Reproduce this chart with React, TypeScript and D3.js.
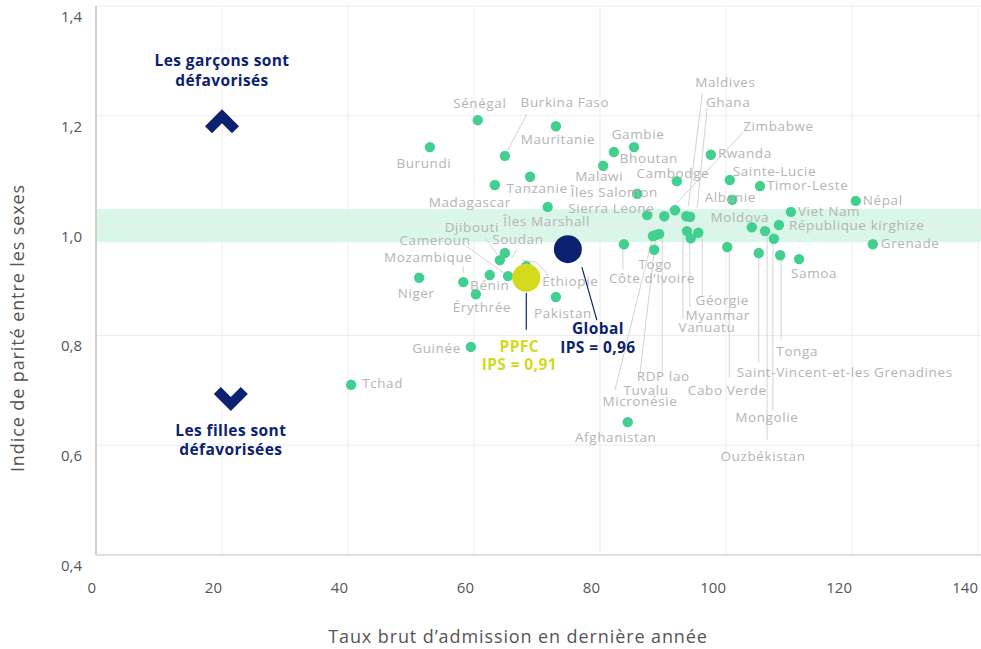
import React from 'react';
import * as d3 from 'd3';

// Pays, taux brut d'admission en dernière année (x) et indice de parité (y)
const countries = [
  'Tchad', 'Guinée', 'Niger', 'Mozambique', 'Érythrée', 'Bénin', 'Djibouti', 'Soudan', 'Cameroun', 'Éthiopie',
  'Pakistan', 'Burundi', 'Sénégal', 'Burkina Faso', 'Mauritanie', 'Madagascar', 'Tanzanie', 'Îles Marshall', 'Malawi', 'Bhoutan',
  'Gambie', 'Îles Salomon', 'Sierra Leone', 'Zimbabwe', '', 'Maldives', 'Ghana', 'Cambodge', 'Rwanda', 'Sainte-Lucie',
  'Timor-Leste', 'Albanie', 'Népal', 'Viet Nam', 'République kirghize', 'Moldova', 'Ouzbékistan', 'Mongolie', 'Grenade', 'Cabo Verde',
  'Saint-Vincent-et-les Grenadines', 'Tonga', 'Samoa', 'Côte d’Ivoire', 'Togo', 'Micronésie', 'Tuvalu', 'RDP lao', 'Vanuatu', 'Myanmar',
  'Géorgie', 'Afghanistan',
];
const tba = [
  40.5, 59.5, 51.3, 58.3, 60.3, 62.5, 64.1, 64.9, 65.4, 68.3,
  73.0, 53.0, 60.6, 64.9, 73.0, 63.3, 68.9, 71.7, 80.5, 82.2,
  85.4, 85.9, 87.5, 90.2, 91.9, 93.7, 94.3, 92.2, 97.6, 100.6,
  105.4, 101.0, 120.6, 110.3, 108.4, 104.1, 106.2, 107.6, 123.3, 100.2,
  105.2, 108.6, 111.6, 83.8, 88.6, 88.4, 88.9, 89.4, 93.8, 94.4,
  95.6, 84.4,
];
const ips = [
  0.710, 0.779, 0.905, 0.897, 0.875, 0.910, 0.937, 0.950, 0.908, 0.926,
  0.870, 1.143, 1.192, 1.127, 1.181, 1.074, 1.089, 1.034, 1.109, 1.134,
  1.143, 1.058, 1.019, 1.017, 1.028, 1.017, 1.016, 1.081, 1.129, 1.083,
  1.072, 1.047, 1.045, 1.025, 1.001, 0.997, 0.990, 0.976, 0.966, 0.961,
  0.950, 0.946, 0.939, 0.966, 0.956, 0.981, 0.983, 0.985, 0.990, 0.977,
  0.987, 0.642,
];

const aggregates = ['Global', 'PPFC'];
const aggTba = [74.9, 68.3];
const aggIps = [0.957, 0.905];

const xTicks = [0, 20, 40, 60, 80, 100, 120, 140];
const yTicks = [0.4, 0.6, 0.8, 1.0, 1.2, 1.4];

type LabelPos = { dx: number; dy: number; anchor?: string; line?: number[][] };

// placement des étiquettes (décalages en pixels par rapport au point)
const labelPos: Record<string, LabelPos> = {
  'Tchad': { dx: 11, dy: 0, anchor: 'start' },
  'Guinée': { dx: -10, dy: 2, anchor: 'end' },
  'Niger': { dx: -3, dy: 17 },
  'Mozambique': { dx: -35, dy: -24, line: [[0, -9], [0, -16]] },
  'Érythrée': { dx: 6, dy: 14 },
  'Bénin': { dx: 0, dy: 11 },
  'Djibouti': { dx: -28, dy: -32, line: [[-15, -23], [-2, -5]] },
  'Soudan': { dx: 13, dy: -13, line: [[12, -4], [7, 5]] },
  'Cameroun': { dx: -73, dy: -35, line: [[-46, -33], [0, 0]] },
  'Éthiopie': { dx: 44, dy: 16, line: [[21, 7], [10, -4], [-4, -6]] },
  'Pakistan': { dx: 7, dy: 17 },
  'Burundi': { dx: -6, dy: 17 },
  'Sénégal': { dx: 2, dy: -16 },
  'Burkina Faso': { dx: 60, dy: -52, line: [[22, -42], [0, 0]] },
  'Mauritanie': { dx: 2, dy: 14 },
  'Madagascar': { dx: -25, dy: 18 },
  'Tanzanie': { dx: 7, dy: 13 },
  'Îles Marshall': { dx: -1, dy: 15 },
  'Malawi': { dx: -4, dy: 12 },
  'Bhoutan': { dx: 35, dy: 7 },
  'Gambie': { dx: 4, dy: -12 },
  'Îles Salomon': { dx: -23, dy: 0 },
  'Sierra Leone': { dx: -36, dy: -6 },
  'Zimbabwe': { dx: 79, dy: -89, anchor: 'start', line: [[79, -84], [0, 0]] },
  'Maldives': { dx: 39, dy: -133, line: [[16, -123], [2, -10]] },
  'Ghana': { dx: 38, dy: -113, line: [[17, -109], [7, -9]] },
  'Cambodge': { dx: -4, dy: -7 },
  'Rwanda': { dx: 7, dy: 0, anchor: 'start' },
  'Sainte-Lucie': { dx: 3, dy: -8, anchor: 'start' },
  'Timor-Leste': { dx: 7, dy: 0, anchor: 'start' },
  'Albanie': { dx: -2, dy: -1 },
  'Népal': { dx: 7, dy: 0, anchor: 'start' },
  'Viet Nam': { dx: 7, dy: 1, anchor: 'start' },
  'République kirghize': { dx: 10, dy: 1, anchor: 'start' },
  'Moldova': { dx: -12, dy: -9 },
  'Ouzbékistan': { dx: -2, dy: 226, line: [[2, 5], [2, 209]] },
  'Mongolie': { dx: -7, dy: 180, line: [[-1, 5], [-1, 172]] },
  'Grenade': { dx: 8, dy: 0, anchor: 'start' },
  'Cabo Verde': { dx: 0, dy: 144, line: [[2, 5], [2, 130]] },
  'Saint-Vincent-et-les Grenadines': { dx: 86, dy: 120, line: [[0, 5], [0, 110]] },
  'Tonga': { dx: 17, dy: 97, line: [[1, 5], [1, 84]] },
  'Samoa': { dx: 15, dy: 15 },
  'Côte d’Ivoire': { dx: 28, dy: 35, line: [[-1, 5], [-1, 25]] },
  'Togo': { dx: 1, dy: 16 },
  'Micronésie': { dx: -13, dy: 166, line: [[-38, 154], [0, 0]] },
  'Tuvalu': { dx: -10, dy: 156, line: [[-16, 138], [0, 0]] },
  'RDP lao': { dx: 4, dy: 144, line: [[3, 4], [3, 138]] },
  'Vanuatu': { dx: 20, dy: 97, line: [[-4, 5], [-4, 88]] },
  'Myanmar': { dx: 27, dy: 78, line: [[-1, 5], [-1, 69]] },
  'Géorgie': { dx: 24, dy: 69, line: [[4, 5], [4, 63]] },
  'Afghanistan': { dx: -12, dy: 16 },
};

const width = 981;
const height = 649;
const margin = { top: 6, right: 3, bottom: 94, left: 96 };

const GREEN = '#41d08f';
const NAVY = '#0b2270';
const YELLOW = '#d5d91d';
const LABEL = '#b4b4b4';
const LEADER = '#d2d2d2';
const FONT = '"Open Sans", "DejaVu Sans", sans-serif';

const App: React.FC = () => {
  const x = d3.scaleLinear().domain([0, 140]).range([margin.left, width - margin.right]);
  const y = d3.scaleLinear().domain([0.4, 1.4]).range([height - margin.bottom, margin.top]);
  const line = d3.line<number[]>().x(d => d[0]).y(d => d[1]);
  const fmt1 = (v: number) => d3.format('.1f')(v).replace('.', ',');
  const fmt2 = (v: number) => d3.format('.2f')(v).replace('.', ',');

  const points = countries.map((c, i) => ({ name: c, cx: x(tba[i]), cy: y(ips[i]) }));

  const chevron = (cx: number, cy: number, dir: number) => {
    const pts = [[0, -12], [17, 5], [10, 12], [0, 2], [-10, 12], [-17, 5]];
    return 'M' + pts.map(p => `${cx + p[0]},${cy + p[1] * dir}`).join('L') + 'Z';
  };

  const gX = x(aggTba[0]), gY = y(aggIps[0]);
  const pX = x(aggTba[1]), pY = y(aggIps[1]);

  const bold = { fontSize: 15.5, fontWeight: 700, letterSpacing: 0.4 };

  return (
    <svg width={width} height={height} style={{ position: 'absolute', left: 0, top: 0, display: 'block', fontFamily: FONT }}>
      <rect width={width} height={height} fill="#fff" />

      {/* bande de parité */}
      <rect x={x(0)} y={y(1.03)} width={width - margin.left} height={y(0.97) - y(1.03)} fill="#d9f6e9" />

      {/* grille */}
      {xTicks.filter(t => t > 0).map(t => (
        <line key={'gx' + t} x1={x(t)} x2={x(t)} y1={y(1.4)} y2={y(0.4)} stroke="#ebebeb" />
      ))}
      {yTicks.filter(t => t > 0.4).map(t => (
        <line key={'gy' + t} x1={x(0)} x2={width} y1={y(t)} y2={y(t)} stroke="#ebebeb" />
      ))}

      {/* axes */}
      <line x1={x(0)} x2={x(0)} y1={y(1.4)} y2={y(0.4)} stroke="#cfcfcf" strokeWidth={2} />
      <line x1={x(0)} x2={width} y1={y(0.4)} y2={y(0.4)} stroke="#e0e0e0" strokeWidth={2} />
      {xTicks.map(t => (
        <text key={'tx' + t} x={x(t)} y={y(0.4) + 34} textAnchor="end" dominantBaseline="middle" fontSize={15} fill="#555">{t}</text>
      ))}
      {yTicks.map(t => (
        <text key={'ty' + t} x={x(0) - 14} y={y(t) + 12} textAnchor="end" dominantBaseline="middle" fontSize={15} fill="#555">{fmt1(t)}</text>
      ))}
      <text x={518} y={638} textAnchor="middle" dominantBaseline="middle" fontSize={18} letterSpacing={0.9} fill="#555">Taux brut d’admission en dernière année</text>
      <text transform="translate(19,328) rotate(-90)" textAnchor="middle" dominantBaseline="middle" fontSize={18} letterSpacing={0.9} fill="#555">Indice de parité entre les sexes</text>

      {/* annotations */}
      <path d={chevron(x(20), y(1.19), 1)} fill={NAVY} />
      <path d={chevron(x(21.4), y(0.684), -1)} fill={NAVY} />
      <text x={x(20)} y={62} textAnchor="middle" dominantBaseline="middle" {...bold} fill={NAVY}>Les garçons sont</text>
      <text x={x(20)} y={82} textAnchor="middle" dominantBaseline="middle" {...bold} fill={NAVY}>défavorisés</text>
      <text x={x(21.4)} y={432} textAnchor="middle" dominantBaseline="middle" {...bold} fill={NAVY}>Les filles sont</text>
      <text x={x(21.4)} y={451} textAnchor="middle" dominantBaseline="middle" {...bold} fill={NAVY}>défavorisées</text>

      {/* traits de rappel */}
      {points.map(p => {
        const lp = labelPos[p.name];
        if (!lp || !lp.line) return null;
        return <path key={'l' + p.name} d={line(lp.line.map(o => [p.cx + o[0], p.cy + o[1]])) || ''} fill="none" stroke={LEADER} strokeWidth={1} />;
      })}

      {/* points pays */}
      {points.map((p, i) => (
        <circle key={'c' + i} cx={p.cx} cy={p.cy} r={5.2} fill={GREEN} />
      ))}

      {/* étiquettes pays */}
      {points.map(p => {
        const lp = labelPos[p.name];
        if (!lp) return null;
        return (
          <text key={'t' + p.name} x={p.cx + lp.dx} y={p.cy + lp.dy} textAnchor={lp.anchor || 'middle'} dominantBaseline="middle" fontSize={13.5} letterSpacing={0.6} fill={LABEL}>{p.name}</text>
        );
      })}

      {/* moyennes */}
      <path d={line([[gX + 14, gY + 18], [gX + 29, gY + 71]]) || ''} stroke={NAVY} strokeWidth={1.2} fill="none" />
      <circle cx={gX} cy={gY} r={14} fill={NAVY} />
      <text x={gX + 30} y={gY + 81} textAnchor="middle" dominantBaseline="middle" {...bold} fill={NAVY}>{aggregates[0]}</text>
      <text x={gX + 30} y={gY + 100} textAnchor="middle" dominantBaseline="middle" {...bold} fill={NAVY}>IPS = {fmt2(aggIps[0])}</text>

      <path d={line([[pX, pY + 15], [pX, pY + 52]]) || ''} stroke={NAVY} strokeWidth={1.2} fill="none" />
      <circle cx={pX} cy={pY} r={14} fill={YELLOW} />
      <text x={pX - 7} y={pY + 70} textAnchor="middle" dominantBaseline="middle" {...bold} fill={YELLOW}>{aggregates[1]}</text>
      <text x={pX - 7} y={pY + 88} textAnchor="middle" dominantBaseline="middle" {...bold} fill={YELLOW}>IPS = {fmt2(aggIps[1])}</text>
    </svg>
  );
};

export default App;
